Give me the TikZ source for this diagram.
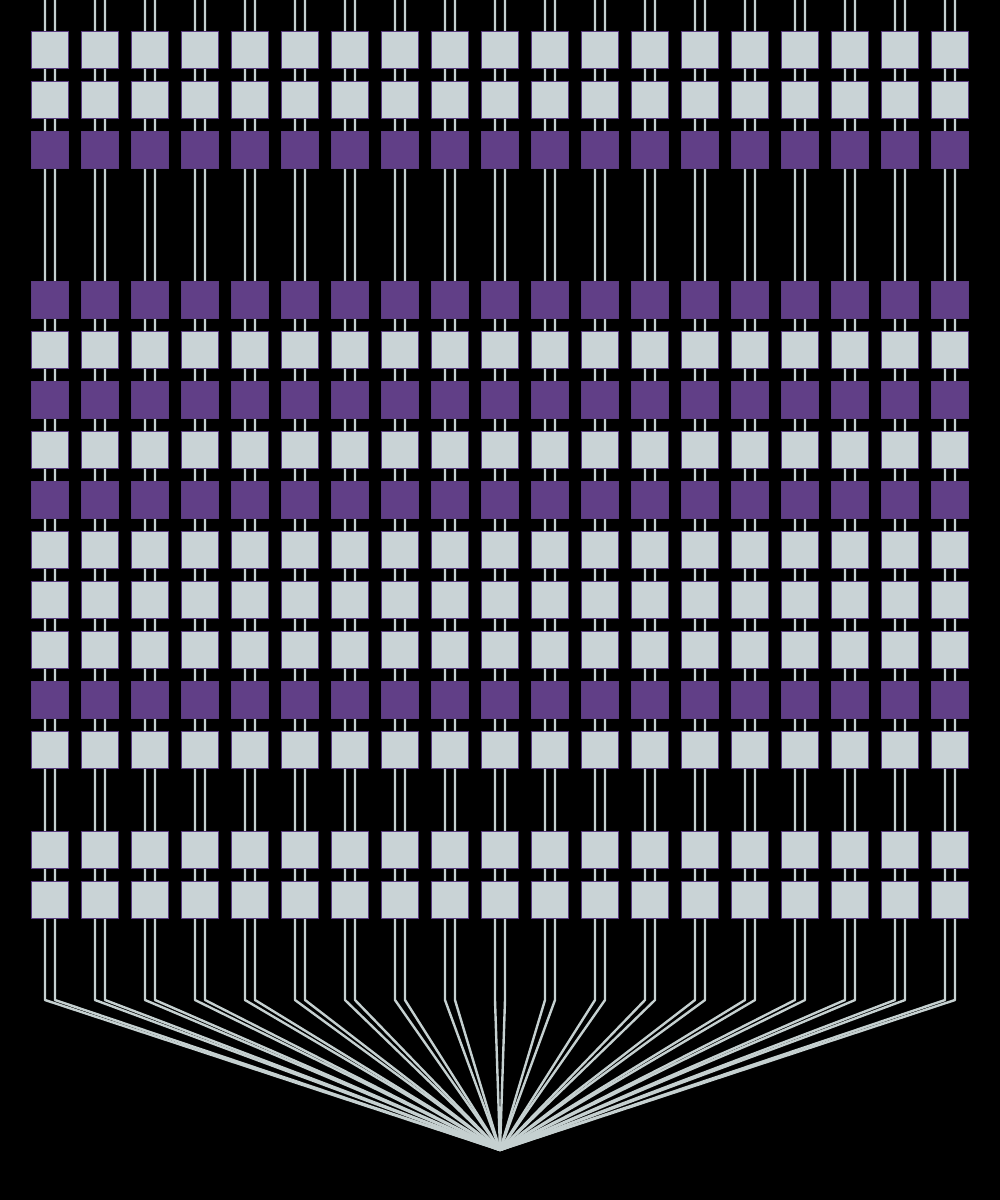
\documentclass[tikz,border=0pt]{standalone}
\definecolor{boxlight}{HTML}{C9D3D6}
\definecolor{boxpurple}{HTML}{613F87}
\definecolor{boxedge}{HTML}{5B3C82}
\definecolor{wire}{HTML}{C5D0D0}
\begin{document}
\begin{tikzpicture}[x=1pt,y=-1pt,
  cell/.style={draw=boxedge, line width=1pt, minimum width=37pt, minimum height=37pt, inner sep=0pt, outer sep=0pt},
  lightcell/.style={cell, fill=boxlight},
  darkcell/.style={cell, fill=boxpurple},
  wireline/.style={draw=wire, line width=2.4pt, line join=round}]
\fill[black] (0,0) rectangle (1000,1200);
\useasboundingbox (0,0) rectangle (1000,1200);
\coordinate (apex) at (500,1150);
\foreach \c in {1,...,19} {
  \pgfmathsetmacro\xc{50*\c}
  \coordinate (tl\c) at (\xc-5,0);
  \coordinate (tr\c) at (\xc+5,0);
  \coordinate (bl\c) at (\xc-5,1000);
  \coordinate (br\c) at (\xc+5,1000);
  \draw[wireline] (tl\c) -- (bl\c) -- (apex);
  \draw[wireline] (tr\c) -- (br\c) -- (apex);
}
\foreach \c in {1,...,19} {
  \pgfmathsetmacro\xc{50*\c}
  \foreach \y/\k in {50/lightcell,100/lightcell,150/darkcell,300/darkcell,350/lightcell,400/darkcell,450/lightcell,500/darkcell,550/lightcell,600/lightcell,650/lightcell,700/darkcell,750/lightcell,850/lightcell,900/lightcell} {
    \node[\k] (n-\y-\c) at (\xc,\y) {};
  }
}
\end{tikzpicture}
\end{document}
